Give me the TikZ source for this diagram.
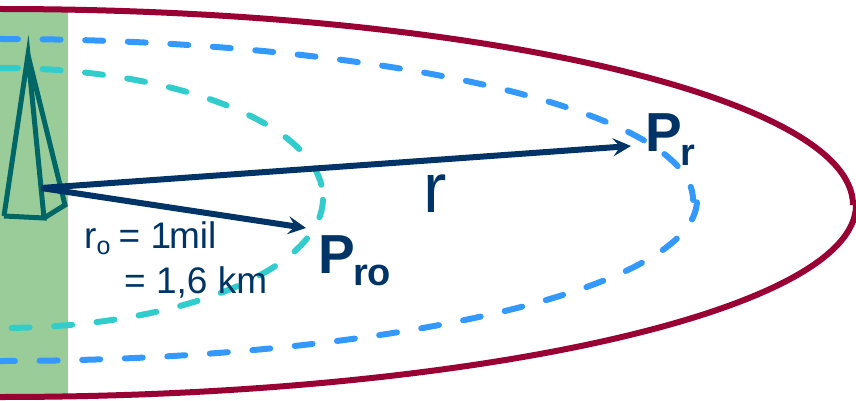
\documentclass[tikz,border=0pt]{standalone}
\usepackage{fontspec}
\setmainfont{Liberation Sans}
\usetikzlibrary{arrows.meta}
\definecolor{grn}{HTML}{99CC99}
\definecolor{wine}{HTML}{990033}
\definecolor{sky}{HTML}{3399FF}
\definecolor{aqua}{HTML}{33CCCC}
\definecolor{navy}{HTML}{003366}
\definecolor{tower}{HTML}{006666}
\tikzset{
  wineline/.style={draw=wine,line width=6pt},
  dashline/.style={line width=6pt,line cap=round,dash pattern=on 18pt off 24.6pt},
  towerline/.style={draw=tower,line width=5pt,line join=miter},
  ray/.style={draw=navy,line width=6pt,-{Stealth[length=18pt,width=18pt,inset=7pt]}},
  lab/.style={inner sep=0pt,anchor=base west,text=navy},
  big/.style={lab,font=\fontsize{55}{55}\selectfont\bfseries},
  sub/.style={lab,font=\fontsize{38}{38}\selectfont\bfseries},
  txt/.style={lab,font=\fontsize{37}{37}\selectfont}
}
\begin{document}
\begin{tikzpicture}[x=1pt,y=-1pt]
\useasboundingbox (0,0) rectangle (856,401);
\fill[grn] (0,9) rectangle (68,397);
% wine contour
\draw[wineline] (0,9) arc[start angle=90,end angle=0,x radius=853pt,y radius=196pt];
\draw[wineline] (0,397) arc[start angle=-90,end angle=0,x radius=856pt,y radius=192pt];
% sky contour
\draw[sky,dashline] (0,39) arc[start angle=90,end angle=0,x radius=693pt,y radius=161pt];
\draw[sky,dashline,dash phase=3pt] (0,361) arc[start angle=-90,end angle=0,x radius=697pt,y radius=161pt];
% aqua contour
\draw[aqua,dashline] (0,68) arc[start angle=90,end angle=0,x radius=323pt,y radius=130pt];
\draw[aqua,dashline,dash phase=31pt] (0,328) arc[start angle=-90,end angle=0,x radius=323pt,y radius=130pt];
% tower
\draw[towerline] (4,216) -- (28,55) -- (44,218) -- (4,216);
\draw[towerline] (28,55) -- (65,205) -- (44,218);
% coordinates and labels
\coordinate (src) at (41,188);
\coordinate (pr) at (631,146);
\coordinate (pro) at (306,228);
\draw[ray] (src) -- (pr);
\draw[ray] (src) -- (pro);
\node[big] (Pr) at (645,151) {P};
\node[sub] (Prs) at (680,165) {r};
\node[big] (Pro) at (318,273) {P};
\node[sub] (Pros) at (353,285) {ro};
\node[lab,font=\fontsize{70}{70}\selectfont] (rr) at (423,212) {r};
\node[txt] (r0) at (84,248) {r\raisebox{-6pt}{\fontsize{25}{25}\selectfont o}\kern-2pt{} = 1\kern-2pt mil};
\node[txt] (km) at (124,293) {= 1,6 km};
\end{tikzpicture}
\end{document}
